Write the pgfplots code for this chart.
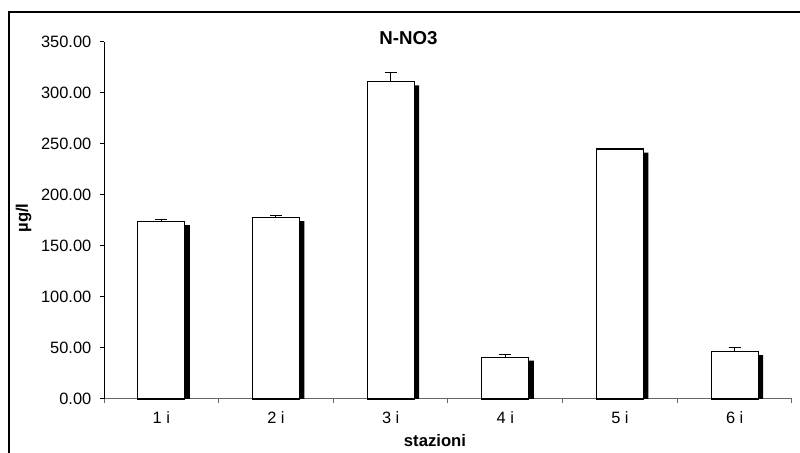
\documentclass[border=0pt]{standalone}
\usepackage{pgfplots}
\pgfplotsset{compat=1.18}
\usepackage{fontspec}
\setmainfont{Liberation Sans}
\begin{document}
\begin{tikzpicture}[x=0.75pt,y=0.75pt]
\useasboundingbox (0,0) rectangle (800,453);
\draw[line width=1pt] (9,-30) -- (9,441) -- (830,441);
\begin{axis}[
  at={(78pt,40.5pt)}, anchor=south west,
  scale only axis, width=516pt, height=267.75pt,
  xmin=0.5, xmax=6.5, ymin=0, ymax=350,
  axis lines*=left,
  axis line style={line width=0.75pt},
  x axis line style={gray!80!black},
  y axis line style={black},
  xtick={0.5,1.5,...,6.5},
  xticklabels={1 i,2 i,3 i,4 i,5 i,6 i},
  x tick label as interval,
  ytick={0,50,...,350},
  tick align=outside,
  major tick length=3pt,
  xtick style={gray!80!black, line width=0.75pt},
  ytick style={black, line width=0.75pt},
  /pgf/number format/assume math mode=true,
  /pgf/number format/.cd, fixed, fixed zerofill, precision=2, 1000 sep={},
  /pgfplots/.cd,
  ticklabel style={font=\fontsize{12.3}{14}\selectfont},
  yticklabel style={xshift=-3pt},
  xticklabel style={yshift=-3pt},
  ybar, bar width=35.25pt,
  clip=false,
]
\addplot[fill=black, draw=none, bar shift=3.75pt] coordinates {
(1,170.5) (2,174.5) (3,307.5) (4,37.5) (5,241.5) (6,43)};
\addplot[fill=white, draw=black, line width=0.9pt, bar shift=0pt,
  error bars/.cd, y dir=plus, y explicit,
  error bar style={black, line width=0.75pt},
  error mark=-,
  error mark options={black, line width=0.75pt, mark size=4.5pt, rotate=90}]
  coordinates {
(1,174) +- (0,2)
(2,178) +- (0,2)
(3,311) +- (0,9.5)
(4,41) +- (0,3)
(5,245) +- (0,0.6)
(6,46.5) +- (0,3.5)};
\end{axis}
\node[anchor=base, font=\bfseries\fontsize{14}{16}\selectfont] at (408.5,408) {N-NO3};
\node[anchor=base, font=\bfseries\fontsize{12.5}{14}\selectfont] at (435,6.5) {stazioni};
\node[rotate=90, font=\bfseries\fontsize{12.5}{14}\selectfont] at (23.5,235) {µg/l};
\end{tikzpicture}
\end{document}
